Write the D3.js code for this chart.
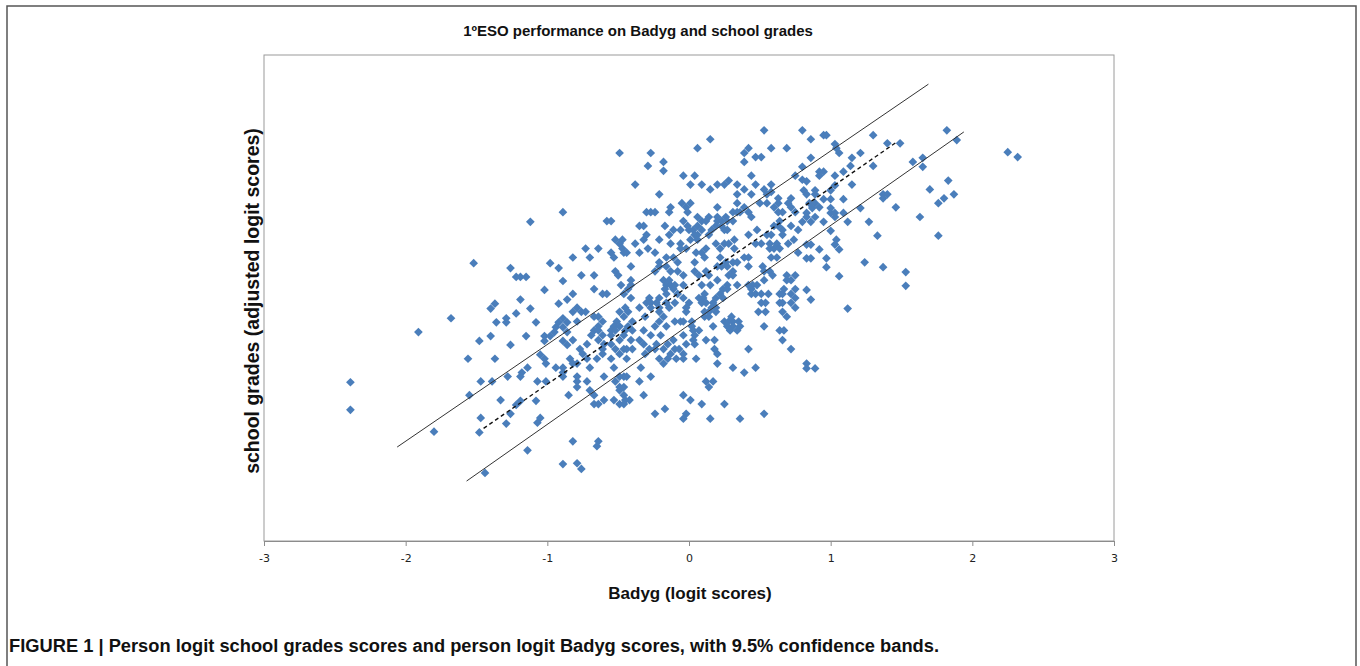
<!DOCTYPE html>
<html>
<head>
<meta charset="utf-8">
<script src="https://cdn.jsdelivr.net/npm/d3@7"></script>
<style>
  html, body { margin: 0; padding: 0; background: #fff; }
  svg { display: block; }
</style>
</head>
<body>
<svg id="chart" width="1360" height="666"></svg>
<script>
// ---------- DATA ----------
const chartTitle = "1ºESO performance on Badyg and school grades";
const xLabel = "Badyg (logit scores)";
const yLabel = "school grades (adjusted logit scores)";
const caption = "FIGURE 1 | Person logit school grades scores and person logit Badyg scores, with 9.5% confidence bands.";
const xTicks = [-3, -2, -1, 0, 1, 2, 3];
const xDomain = [-3, 3];
const yDomain = [-3, 3];

// [Badyg logit, school grades logit] – low Badyg range
const personsLow = [
[-2.39,-1.04],[-2.39,-1.38],[-1.91,-0.42],[-1.68,-0.25],[-1.80,-1.65],[-1.52,0.43],[-1.56,-0.75],[-1.55,-1.20],
[-1.48,-0.53],[-1.47,-1.03],[-1.47,-1.48],[-1.48,-1.66],[-1.44,-2.16],[-1.40,-0.13],[-1.37,-0.07],[-1.36,-0.30],
[-1.40,-0.47],[-1.37,-0.75],[-1.39,-1.03],[-1.33,-1.26],[-1.29,-0.25],[-1.29,-0.30],[-1.26,-0.58],[-1.26,0.37],
[-1.22,0.26],[-1.19,0.26],[-1.15,0.26],[-1.22,-0.19],[-1.19,-0.02],[-1.12,0.94],[-1.12,-0.13],[-1.08,-0.30],
[-1.15,-0.47],[-1.28,-0.97],[-1.29,-1.55],[-1.26,-1.43],[-1.22,-1.32],[-1.19,-1.27],[-1.18,-0.92],[-1.19,-0.97],
[-1.14,-0.86],[-1.08,-1.27],[-1.07,-1.54],[-1.05,-1.48],[-1.07,-1.03],[-1.14,-1.88],[-1.02,0.10],[-0.98,0.43],
[-0.92,0.37],[-0.89,1.06],[-0.89,0.21],[-0.92,-0.07],[-0.86,-0.02],[-1.02,-0.47],[-1.02,-0.53],[-0.98,-0.47],
[-0.95,-0.42],[-0.94,-0.36],[-0.92,-0.30],[-0.89,-0.25],[-0.86,-0.30],[-0.89,-0.36],[-0.86,-0.42],[-0.89,-0.53],
[-0.86,-0.58],[-1.05,-0.70],[-1.02,-0.75],[-1.01,-0.81],[-0.94,-0.86],[-0.89,-0.86],[-0.89,-0.97],[-0.89,-0.92],
[-1.01,-1.03],[-0.85,-1.20],[-0.89,-2.05]
];

// middle Badyg range
const personsMid = [
[0.53,2.07],[0.15,1.96],[0.06,1.85],[0.42,1.85],[0.58,1.85],[0.69,1.85],[-0.49,1.79],[-0.27,1.79],[0.39,1.79],
[0.47,1.74],[0.51,1.74],[-0.18,1.68],[0.39,1.68],[-0.29,1.63],[-0.18,1.57],[-0.04,1.51],[0.04,1.51],[0.44,1.51],
[0.75,1.51],[0.28,1.45],[-0.38,1.40],[0.01,1.40],[0.09,1.40],[0.20,1.40],[0.25,1.40],[0.34,1.40],[0.47,1.40],
[0.58,1.40],[0.15,1.34],[0.39,1.34],[0.53,1.34],[0.58,1.31],[0.44,1.28],[-0.21,1.28],[0.34,1.28],[0.55,1.28],
[0.63,1.23],[0.72,1.23],[-0.05,1.17],[0.01,1.17],[0.34,1.17],[0.50,1.17],[0.55,1.17],[0.63,1.17],[0.70,1.17],
[-0.13,1.12],[-0.02,1.12],[0.20,1.12],[0.39,1.12],[0.60,1.12],[0.72,1.12],
[-0.30,1.06],[-0.27,1.06],[-0.24,1.06],[-0.14,1.06],[-0.01,1.06],[0.31,1.06],[0.34,1.06],[0.36,1.06],[0.42,1.06],
[0.63,1.06],[0.66,1.06],[0.75,1.06],[0.44,1.00],[0.06,1.00],[0.14,1.00],[0.20,1.00],[0.26,1.00],
[-0.58,0.95],[-0.55,0.95],[-0.04,0.95],[0.09,0.95],[0.12,0.95],[0.20,0.95],[0.23,0.95],[0.27,0.95],[0.31,0.95],[0.64,0.95],
[-0.35,0.89],[-0.32,0.89],[-0.17,0.89],[-0.01,0.89],[0.06,0.89],[0.19,0.89],[0.23,0.89],[0.60,0.89],[0.63,0.89],[0.72,0.89],
[-0.11,0.84],[-0.06,0.84],[0.00,0.84],[0.03,0.84],[0.09,0.84],[0.16,0.84],[0.25,0.84],[0.27,0.84],[0.48,0.84],[0.66,0.84],[0.77,0.84],
[-0.30,0.78],[-0.14,0.78],[0.04,0.78],[0.06,0.78],[0.14,0.78],[0.42,0.78],[0.55,0.78],[0.58,0.78],[0.66,0.78],
[-0.52,0.72],[-0.47,0.72],[-0.32,0.72],[-0.21,0.72],[0.01,0.72],[0.06,0.72],[0.32,0.72],[0.74,0.72],
[-0.49,0.67],[-0.38,0.67],[-0.13,0.67],[-0.06,0.67],[0.19,0.67],[0.25,0.67],[0.28,0.67],[0.47,0.67],[0.51,0.67],[0.57,0.67],[0.62,0.67],[0.70,0.67],
[-0.73,0.61],[-0.64,0.61],[-0.47,0.61],[-0.29,0.61],[-0.06,0.61],[-0.02,0.61],[0.12,0.61],[0.22,0.61],[0.32,0.61],[0.57,0.61],[0.60,0.61],[0.64,0.61],
[-0.55,0.56],[-0.46,0.56],[-0.44,0.56],[-0.35,0.56],[-0.24,0.56],[0.05,0.56],[0.09,0.56],[0.77,0.56],
[-0.82,0.50],[-0.70,0.50],[-0.53,0.50],[-0.16,0.50],[-0.11,0.50],[0.11,0.50],[0.22,0.50],[0.39,0.50],[0.42,0.50],[0.58,0.50],[0.62,0.50],
[-0.21,0.44],[-0.08,0.44],[0.04,0.44],[0.26,0.44],[0.31,0.44],[0.34,0.44],
[-0.41,0.39],[-0.21,0.39],[-0.16,0.39],[0.20,0.39],[0.23,0.39],[0.27,0.39],[0.42,0.39],[0.52,0.39],
[-0.52,0.33],[-0.24,0.33],[-0.13,0.33],[-0.08,0.33],[0.04,0.33],[0.12,0.33],[0.31,0.33],[0.53,0.33],[0.57,0.33],
[-0.76,0.28],[-0.67,0.28],[-0.50,0.28],[-0.04,0.28],[0.07,0.28],[0.14,0.28],[0.28,0.28],[0.31,0.28],[0.59,0.28],[0.69,0.28],[0.75,0.28],
[-0.41,0.22],[-0.18,0.22],[-0.14,0.22],[0.20,0.22],[0.53,0.22],[0.69,0.22],[0.72,0.22],
[-0.48,0.16],[-0.41,0.16],[-0.16,0.16],[-0.13,0.16],[-0.10,0.16],[-0.04,0.16],[0.09,0.16],[0.15,0.16],[0.27,0.16],[0.34,0.16],[0.42,0.16],[0.45,0.16],[0.48,0.16],
[-0.67,0.11],[-0.43,0.11],[-0.17,0.11],[-0.11,0.11],[0.24,0.11],[0.27,0.11],[0.44,0.11],[0.67,0.11],[0.75,0.11],
[-0.82,0.05],[-0.61,0.05],[-0.58,0.05],[-0.46,0.05],[-0.16,0.05],[-0.08,0.05],[0.11,0.05],[0.22,0.05],[0.44,0.05],[0.47,0.05],[0.51,0.05],[0.56,0.05],[0.64,0.05],[0.66,0.05],[0.72,0.05],
[-0.41,0.00],[-0.28,0.00],[-0.21,0.00],[-0.04,0.00],[0.07,0.00],[0.10,0.00],[0.19,0.00],[0.24,0.00],[0.75,0.00],
[-0.30,-0.06],[-0.27,-0.06],[-0.23,-0.06],[-0.16,-0.06],[-0.10,-0.06],[0.00,-0.06],[0.09,-0.06],[0.12,-0.06],[0.17,-0.06],[0.51,-0.06],[0.54,-0.06],[0.64,-0.06],[0.66,-0.06],[0.72,-0.06],
[-0.79,-0.12],[-0.45,-0.12],[-0.35,-0.12],[-0.27,-0.12],[-0.21,-0.12],[-0.14,-0.12],[-0.02,-0.12],[0.16,-0.12],[0.19,-0.12],[0.75,-0.12],
[-0.82,-0.17],[-0.76,-0.17],[-0.73,-0.17],[-0.49,-0.17],[-0.43,-0.17],[-0.21,-0.17],[-0.02,-0.17],[0.11,-0.17],[0.14,-0.17],[0.19,-0.17],[0.49,-0.17],[0.54,-0.17],[0.66,-0.17],
[-0.67,-0.23],[-0.64,-0.23],[-0.46,-0.23],[-0.31,-0.23],[-0.18,-0.23],[0.11,-0.23],[0.14,-0.23],[0.30,-0.23],[0.69,-0.23],
[-0.79,-0.29],[-0.61,-0.29],[-0.51,-0.29],[-0.40,-0.29],[-0.21,-0.29],[-0.10,-0.29],[-0.06,-0.29],[-0.04,-0.29],[0.02,-0.29],[0.25,-0.29],[0.28,-0.29],[0.31,-0.29],[0.35,-0.29],
[-0.64,-0.35],[-0.53,-0.35],[-0.49,-0.35],[-0.43,-0.35],[-0.24,-0.35],[-0.16,-0.35],[0.02,-0.35],[0.17,-0.35],[0.27,-0.35],[0.31,-0.35],[0.36,-0.35],[0.53,-0.35],
[-0.67,-0.40],[-0.64,-0.40],[-0.55,-0.40],[-0.52,-0.40],[-0.45,-0.40],[-0.40,-0.40],[-0.32,-0.40],[0.03,-0.40],[0.07,-0.40],[0.29,-0.40],[0.34,-0.40],[0.64,-0.40],[0.67,-0.40],
[-0.69,-0.46],[-0.61,-0.46],[-0.55,-0.46],[-0.46,-0.46],[-0.27,-0.46],[-0.20,-0.46],[-0.04,-0.46],[0.04,-0.46],
[-0.82,-0.52],[-0.64,-0.52],[-0.49,-0.52],[-0.41,-0.52],[-0.35,-0.52],[-0.11,-0.52],[0.03,-0.52],[0.12,-0.52],[0.18,-0.52],[0.66,-0.52],
[-0.72,-0.57],[-0.60,-0.57],[-0.55,-0.57],[-0.32,-0.57],[-0.23,-0.57],[-0.15,-0.57],[-0.02,-0.57],[0.04,-0.57],
[-0.77,-0.63],[-0.61,-0.63],[-0.52,-0.63],[-0.46,-0.63],[-0.44,-0.63],[-0.40,-0.63],[-0.28,-0.63],[-0.24,-0.63],[-0.18,-0.63],[-0.10,-0.63],[-0.07,-0.63],[0.18,-0.63],[0.42,-0.63],[0.72,-0.63],
[-0.75,-0.69],[-0.61,-0.69],[-0.49,-0.69],[-0.31,-0.69],[-0.13,-0.69],[-0.04,-0.69],[0.20,-0.69],
[-0.84,-0.75],[-0.72,-0.75],[-0.65,-0.75],[-0.55,-0.75],[-0.44,-0.75],[-0.21,-0.75],[-0.15,-0.75],[-0.09,-0.75],[-0.04,-0.75],[0.05,-0.75],
[-0.82,-0.81],[-0.79,-0.81],[-0.18,-0.81],[0.20,-0.81],
[-0.70,-0.86],[-0.53,-0.86],[-0.34,-0.86],[0.31,-0.86],[0.47,-0.86],[0.39,-0.92],
[-0.79,-0.97],[-0.60,-0.97],[-0.49,-0.97],[-0.46,-0.97],[-0.44,-0.97],[-0.27,-0.97],
[-0.79,-1.03],[-0.72,-1.03],[-0.52,-1.03],[-0.35,-1.03],[0.12,-1.03],[0.17,-1.03],
[-0.79,-1.10],[-0.49,-1.10],[-0.46,-1.10],[0.14,-1.10],[-0.70,-1.14],[-0.49,-1.14],
[-0.67,-1.20],[-0.46,-1.20],[-0.32,-1.20],[-0.04,-1.20],
[-0.60,-1.26],[-0.53,-1.26],[-0.45,-1.26],[-0.42,-1.26],[0.01,-1.26],
[-0.67,-1.31],[-0.64,-1.31],[-0.49,-1.31],[-0.46,-1.31],[0.09,-1.31],[0.25,-1.31],
[-0.17,-1.37],[-0.24,-1.43],[-0.02,-1.43],[0.53,-1.43],[-0.04,-1.49],[0.15,-1.49],[0.36,-1.49],
[-0.82,-1.77],[-0.64,-1.77],[-0.65,-1.83],[-0.79,-2.04],[-0.76,-2.11]
];

// high Badyg range
const personsHigh = [
[0.80,2.07],[0.86,1.96],[0.95,2.01],[0.97,2.01],[1.30,2.01],[1.82,2.07],[1.89,1.95],[2.25,1.80],[2.32,1.74],
[1.03,1.90],[1.04,1.85],[1.06,1.79],[1.40,1.91],[1.49,1.91],[0.86,1.73],[1.15,1.73],[1.21,1.79],[1.65,1.73],
[1.58,1.68],[1.65,1.62],[0.80,1.62],[1.30,1.63],[1.14,1.63],[0.92,1.56],[0.95,1.56],[1.09,1.56],[0.92,1.51],
[1.03,1.51],[0.80,1.46],[0.83,1.44],[1.83,1.45],[1.15,1.40],[1.03,1.39],[0.81,1.33],[0.89,1.33],[1.00,1.33],
[1.70,1.34],[1.87,1.28],[0.83,1.28],[0.89,1.28],[1.37,1.28],[1.40,1.28],[1.37,1.23],[1.80,1.23],[0.95,1.22],
[1.00,1.22],[1.09,1.22],[1.76,1.17],[0.85,1.17],[0.89,1.17],[0.92,1.12],[1.00,1.11],[0.87,1.11],[1.21,1.11],
[1.46,1.12],[0.83,1.05],[1.00,1.05],[1.03,1.05],[1.09,1.05],[0.83,1.00],[0.89,1.00],[1.03,1.00],[1.63,1.00],
[0.80,0.94],[0.86,0.94],[0.95,0.94],[1.12,0.94],[1.27,0.94],[1.00,0.83],[1.33,0.77],[1.76,0.77],[0.83,0.66],
[0.86,0.66],[1.03,0.66],[1.04,0.72],[0.92,0.60],[1.06,0.60],[0.83,0.49],[0.86,0.49],[0.97,0.49],[1.24,0.44],
[0.97,0.38],[1.37,0.38],[1.53,0.32],[1.06,0.27],[1.53,0.15],[0.83,0.10],[0.86,-0.02],[1.12,-0.13],
[0.83,-0.81],[0.83,-0.87],[0.89,-0.87]
];

// fitted line and 95% bands: [x0, y0, x1, y1]
const upperBand = [-2.06, -1.84, 1.69, 2.64];
const lowerBand = [-1.57, -2.26, 1.94, 2.05];
const fitLine   = [-1.45, -1.61, 1.47, 1.93];

// ---------- DRAWING ----------
const svg = d3.select("#chart");
const W = 1360, H = 666;
const plot = { left: 264, right: 1114, top: 55, bottom: 541 };

// outer figure frame
svg.append("path")
  .attr("d", `M7,${H + 5} V6 H1356 V${H + 5}`)
  .attr("fill", "none").attr("stroke", "#555").attr("stroke-width", 1.5);

const x = d3.scaleLinear().domain(xDomain).range([plot.left, plot.right]);
const y = d3.scaleLinear().domain(yDomain).range([plot.bottom, plot.top]);

// plot area border
svg.append("rect")
  .attr("x", plot.left).attr("y", plot.top)
  .attr("width", plot.right - plot.left).attr("height", plot.bottom - plot.top)
  .attr("fill", "none").attr("stroke", "#9a9a9a").attr("stroke-width", 1);

// x axis
const xAxis = svg.append("g")
  .attr("transform", `translate(0,${plot.bottom})`)
  .call(d3.axisBottom(x).tickValues(xTicks).tickFormat(d3.format("d")).tickSize(5).tickSizeOuter(0));
xAxis.select(".domain").attr("stroke", "#8c8c8c");
xAxis.selectAll(".tick line").attr("stroke", "#8c8c8c");
xAxis.selectAll(".tick text")
  .attr("font-family", "'DejaVu Sans', Verdana, sans-serif")
  .attr("font-size", 11).attr("fill", "#222").attr("y", 13).attr("dy", "0.71em")
  .text(d => d < 0 ? "-" + Math.abs(d) : d);

// points
const allPoints = personsLow.concat(personsMid, personsHigh);
const diamond = d3.symbol().type(d3.symbolSquare).size(38);
svg.append("g").selectAll("path").data(allPoints).join("path")
  .attr("d", diamond)
  .attr("transform", d => `translate(${x(d[0])},${y(d[1])}) rotate(45)`)
  .attr("fill", "#4A7EBB");

// lines
function drawSeg(seg, dash, width, color) {
  svg.append("line")
    .attr("x1", x(seg[0])).attr("y1", y(seg[1]))
    .attr("x2", x(seg[2])).attr("y2", y(seg[3]))
    .attr("stroke", color).attr("stroke-width", width)
    .attr("stroke-dasharray", dash);
}
drawSeg(upperBand, null, 1, "#333");
drawSeg(lowerBand, null, 1, "#333");
drawSeg(fitLine, "4,3", 1.4, "#111");

// texts
const font = "'Liberation Sans', Arial, Helvetica, sans-serif";
svg.append("text").attr("x", 638).attr("y", 36).attr("text-anchor", "middle")
  .attr("font-family", font).attr("font-weight", "bold").attr("font-size", 15)
  .attr("fill", "#111").text(chartTitle);

svg.append("text").attr("x", 690).attr("y", 599).attr("text-anchor", "middle")
  .attr("font-family", font).attr("font-weight", "bold").attr("font-size", 17)
  .attr("fill", "#111").text(xLabel);

svg.append("text").attr("transform", "translate(259,301) rotate(-90)").attr("text-anchor", "middle")
  .attr("font-family", font).attr("font-weight", "bold").attr("font-size", 19.5)
  .attr("fill", "#111").text(yLabel);

svg.append("text").attr("x", 9).attr("y", 652)
  .attr("font-family", font).attr("font-weight", "bold").attr("font-size", 17.5)
  .attr("textLength", 930).attr("lengthAdjust", "spacingAndGlyphs")
  .attr("fill", "#111").text(caption);
</script>
</body>
</html>
